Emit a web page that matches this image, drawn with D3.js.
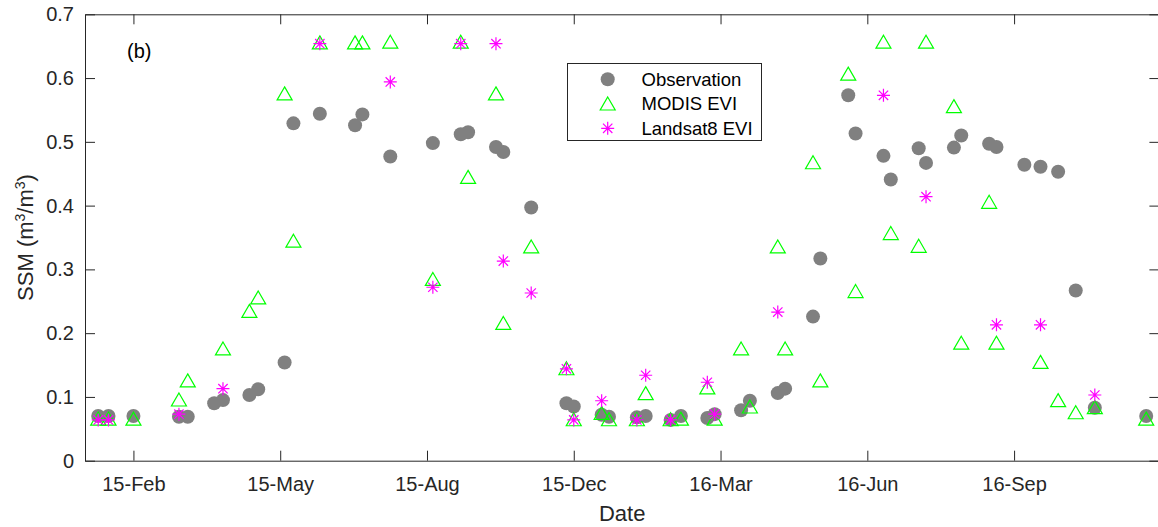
<!DOCTYPE html>
<html>
<head>
<meta charset="utf-8">
<script src="https://cdn.jsdelivr.net/npm/d3@7"></script>
<style>
  html, body { margin: 0; padding: 0; background: #fff; }
  svg { display: block; font-family: "Liberation Sans", Arial, Helvetica, sans-serif; }
</style>
</head>
<body>
<svg id="chart" width="1158" height="527"></svg>
<script>
// Surface soil moisture: in-situ observations and EVI-based estimates
const obsDates = ["2015-01-12","2015-01-19","2015-02-05","2015-03-08","2015-03-14","2015-04-01","2015-04-07",
  "2015-04-25","2015-05-01","2015-05-19","2015-05-25","2015-06-12","2015-07-06","2015-07-11","2015-07-30",
  "2015-08-28","2015-09-16","2015-09-21","2015-10-10","2015-10-15","2015-11-03","2015-11-27","2015-12-02",
  "2015-12-21","2015-12-26","2016-01-14","2016-01-20","2016-02-06","2016-02-13","2016-03-02","2016-03-07",
  "2016-03-25","2016-03-31","2016-04-19","2016-04-24","2016-05-13","2016-05-18","2016-06-06","2016-06-11",
  "2016-06-30","2016-07-05","2016-07-24","2016-07-29","2016-08-17","2016-08-22","2016-09-10","2016-09-15",
  "2016-10-04","2016-10-15","2016-10-27","2016-11-08","2016-11-21","2016-12-26"];
const obsValues = [0.070,0.070,0.070,0.069,0.069,0.090,0.095,
  0.103,0.112,0.154,0.529,0.544,0.526,0.543,0.477,
  0.498,0.512,0.515,0.492,0.484,0.397,0.090,0.085,
  0.072,0.069,0.068,0.070,0.064,0.070,0.067,0.073,
  0.079,0.094,0.106,0.113,0.226,0.317,0.573,0.513,
  0.478,0.441,0.490,0.467,0.491,0.510,0.497,0.492,
  0.464,0.461,0.453,0.267,0.083,0.070];

const modisDates = ["2015-01-12","2015-01-19","2015-02-05","2015-03-08","2015-03-14","2015-04-07","2015-04-25",
  "2015-05-01","2015-05-19","2015-05-25","2015-06-12","2015-07-06","2015-07-11","2015-07-30","2015-08-28",
  "2015-09-16","2015-09-21","2015-10-10","2015-10-15","2015-11-03","2015-11-27","2015-12-02","2015-12-21",
  "2015-12-26","2016-01-14","2016-01-20","2016-02-06","2016-02-13","2016-03-02","2016-03-07","2016-03-25",
  "2016-03-31","2016-04-19","2016-04-24","2016-05-13","2016-05-18","2016-06-06","2016-06-11","2016-06-30",
  "2016-07-05","2016-07-24","2016-07-29","2016-08-17","2016-08-22","2016-09-10","2016-09-15","2016-10-15",
  "2016-10-27","2016-11-08","2016-11-21","2016-12-26"];
const modisValues = [0.066,0.066,0.066,0.096,0.126,0.176,0.235,
  0.256,0.576,0.345,0.656,0.656,0.656,0.657,0.285,
  0.657,0.445,0.576,0.216,0.336,0.145,0.065,0.075,
  0.065,0.065,0.106,0.065,0.066,0.115,0.066,0.176,
  0.085,0.336,0.176,0.468,0.126,0.607,0.266,0.657,
  0.357,0.337,0.657,0.556,0.185,0.406,0.185,0.155,
  0.095,0.076,0.084,0.066];

const landsatDates = ["2015-01-12","2015-01-19","2015-03-08","2015-04-07","2015-06-12","2015-07-30","2015-08-28",
  "2015-09-16","2015-10-10","2015-10-15","2015-11-03","2015-11-27","2015-12-02","2015-12-21","2016-01-14",
  "2016-01-20","2016-02-06","2016-03-02","2016-03-07","2016-04-19","2016-06-30","2016-07-29","2016-09-15",
  "2016-10-15","2016-11-21"];
const landsatValues = [0.064,0.064,0.073,0.113,0.654,0.594,0.272,
  0.654,0.654,0.313,0.263,0.144,0.064,0.094,0.064,
  0.134,0.064,0.123,0.073,0.233,0.573,0.414,0.213,
  0.213,0.103];

const xTickDates = ["2015-02-05","2015-05-16","2015-08-24","2015-12-02","2016-03-11","2016-06-19","2016-09-27"];
const xTickLabels = ["15-Feb","15-May","15-Aug","15-Dec","16-Mar","16-Jun","16-Sep"];
const yTicks = [0, 0.1, 0.2, 0.3, 0.4, 0.5, 0.6, 0.7];
const seriesNames = ["Observation", "MODIS EVI", "Landsat8 EVI"];

const parse = d3.utcParse("%Y-%m-%d");
const zip = (ds, vs) => ds.map((d, i) => ({ date: parse(d), value: vs[i] }));
const obs = zip(obsDates, obsValues);
const modis = zip(modisDates, modisValues);
const landsat = zip(landsatDates, landsatValues);

const axisColor = "#262626";
const plot = { left: 85, right: 1159.4, top: 14.3, bottom: 460.7 };

const svg = d3.select("#chart");

const x = d3.scaleUtc()
  .domain([parse("2015-01-03"), parse("2017-01-04")])
  .range([plot.left, plot.right]);
const y = d3.scaleLinear().domain([0, 0.7]).range([plot.bottom, plot.top]);

const tickMap = new Map(xTickDates.map((d, i) => [+parse(d), xTickLabels[i]]));

// Axes (ticks point inward, box drawn on all sides)
const gx = svg.append("g").attr("transform", `translate(0,${plot.bottom})`)
  .call(d3.axisBottom(x).tickValues(xTickDates.map(parse))
    .tickFormat(d => tickMap.get(+d)).tickSizeInner(-10).tickSizeOuter(0).tickPadding(16));
const gxTop = svg.append("g").attr("transform", `translate(0,${plot.top})`)
  .call(d3.axisTop(x).tickValues(xTickDates.map(parse)).tickFormat("").tickSizeInner(-10).tickSizeOuter(0));
const gy = svg.append("g").attr("transform", `translate(${plot.left},0)`)
  .call(d3.axisLeft(y).tickValues(yTicks).tickFormat(d3.format("~g"))
    .tickSizeInner(-10).tickSizeOuter(0).tickPadding(11));
const gyRight = svg.append("g").attr("transform", `translate(${plot.right},0)`)
  .call(d3.axisRight(y).tickValues(yTicks).tickFormat("").tickSizeInner(-10).tickSizeOuter(0));

[gx, gxTop, gy, gyRight].forEach(g => {
  g.select(".domain").attr("stroke", axisColor).attr("stroke-width", 1);
  g.selectAll(".tick line").attr("stroke", axisColor).attr("stroke-width", 1);
  g.selectAll(".tick text").attr("fill", axisColor).attr("font-size", 20)
    .attr("font-family", "'Liberation Sans', Arial, sans-serif");
});

// Axis labels
svg.append("text")
  .attr("x", (plot.left + plot.right) / 2).attr("y", 521)
  .attr("text-anchor", "middle").attr("font-size", 22).attr("fill", axisColor)
  .text("Date");

const yl = svg.append("text")
  .attr("transform", `translate(33,${(plot.top + plot.bottom) / 2}) rotate(-90)`)
  .attr("text-anchor", "middle").attr("font-size", 22).attr("fill", axisColor);
yl.append("tspan").text("SSM (m");
yl.append("tspan").attr("font-size", 14).attr("dy", -8).text("3");
yl.append("tspan").attr("dy", 8).text("/m");
yl.append("tspan").attr("font-size", 14).attr("dy", -8).text("3");
yl.append("tspan").attr("dy", 8).text(")");

// Panel tag
svg.append("text").attr("x", 127).attr("y", 58).attr("font-size", 20).attr("fill", "#000").text("(b)");

// Marker shapes
const triW = 15, triH = 13, ast = 6.5;
const triPath = `M0,${-triH / 2}L${triW / 2},${triH / 2}L${-triW / 2},${triH / 2}Z`;
const astPath = (() => {
  const a = ast, b = ast * 0.72;
  return `M0,${-a}V${a}M${-a},0H${a}M${-b},${-b}L${b},${b}M${-b},${b}L${b},${-b}`;
})();

const marks = svg.append("g");

marks.append("g").selectAll("circle").data(obs).join("circle")
  .attr("cx", d => x(d.date)).attr("cy", d => y(d.value)).attr("r", 7)
  .attr("fill", "#808080");

marks.append("g").selectAll("path").data(modis).join("path")
  .attr("transform", d => `translate(${x(d.date)},${y(d.value)})`)
  .attr("d", triPath).attr("fill", "none").attr("stroke", "#00ff00").attr("stroke-width", 1.2);

marks.append("g").selectAll("path").data(landsat).join("path")
  .attr("transform", d => `translate(${x(d.date)},${y(d.value)})`)
  .attr("d", astPath).attr("fill", "none").attr("stroke", "#ff00ff").attr("stroke-width", 1.2);

// Legend
const lg = svg.append("g");
lg.append("rect").attr("x", 567.5).attr("y", 63.5).attr("width", 194).attr("height", 77)
  .attr("fill", "#fff").attr("stroke", axisColor).attr("stroke-width", 1);
const rowY = [79.3, 103.5, 128.3];
const mx = 607.7;
lg.append("circle").attr("cx", mx).attr("cy", rowY[0]).attr("r", 7).attr("fill", "#808080");
lg.append("path").attr("transform", `translate(${mx},${rowY[1]})`).attr("d", triPath)
  .attr("fill", "none").attr("stroke", "#00ff00").attr("stroke-width", 1.2);
lg.append("path").attr("transform", `translate(${mx},${rowY[2]})`).attr("d", astPath)
  .attr("fill", "none").attr("stroke", "#ff00ff").attr("stroke-width", 1.2);
lg.selectAll("text.lab").data(seriesNames).join("text").attr("class", "lab")
  .attr("x", 641.5).attr("y", (d, i) => rowY[i]).attr("dy", "0.36em")
  .attr("font-size", 18.5).attr("fill", "#000").text(d => d);
</script>
</body>
</html>
